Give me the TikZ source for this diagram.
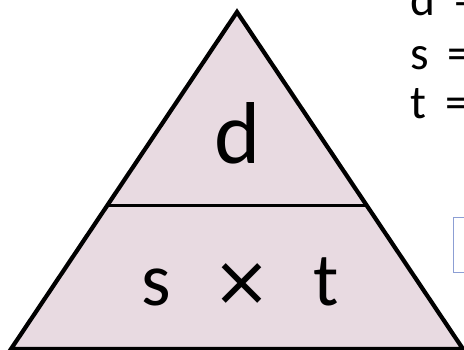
\documentclass[tikz,border=0pt]{standalone}
\usepackage{fontspec}
\setmainfont{Carlito}
\newfontfamily\symfont{DejaVu Sans}
\usepackage{tikz}
\usetikzlibrary{calc}

\definecolor{trifill}{RGB}{232,218,225}
\definecolor{boxblue}{RGB}{140,158,212}

\begin{document}
\begin{tikzpicture}[
  x=0.02cm, y=0.02cm,
  tri/.style={
    draw=black,
    fill=trifill,
    line width=2.4pt,
    line join=miter
  },
  midline/.style={
    draw=black,
    line width=1.7pt
  },
  bigtext/.style={
    inner sep=0pt,
    anchor=base
  },
  sidetext/.style={
    font=\fontsize{27}{32}\selectfont,
    inner sep=0pt,
    anchor=base west
  },
  hintbox/.style={
    draw=boxblue,
    fill=white,
    line width=0.8pt
  }
]

% Frame of the picture
\clip (0,0) rectangle (464,349);

% Corners of the triangle
\coordinate (top) at (237,337);
\coordinate (bl) at (11,0);
\coordinate (br) at (463,0);

\draw[tri] (top) -- (bl) -- (br) -- cycle;

% Dividing line
\coordinate (ml) at ($(top)!0.573!(bl)$);
\coordinate (mr) at ($(top)!0.573!(br)$);
\draw[midline] (ml) -- (mr);

% Labels inside the triangle
\node[bigtext, font=\fontsize{50}{56}\selectfont] (dist) at (238,186) {d};
\node[bigtext, font=\fontsize{43}{48}\selectfont] (prod) at (240,44)
  {s\hspace{0.55em}{\symfont\fontsize{40}{44}\selectfont ×}\hspace{0.55em}t};

% Formulas on the right
\node[sidetext] (deq) at (410,334) {d\hspace{0.4em}=};
\node[sidetext] (seq) at (410,279) {s\hspace{0.4em}=};
\node[sidetext] (teq) at (410,231) {t\hspace{0.4em}=};

% Box on the right edge
\node[hintbox, minimum width=1cm, minimum height=1.1cm, anchor=north west] (hint) at (453,132) {};

\end{tikzpicture}
\end{document}
